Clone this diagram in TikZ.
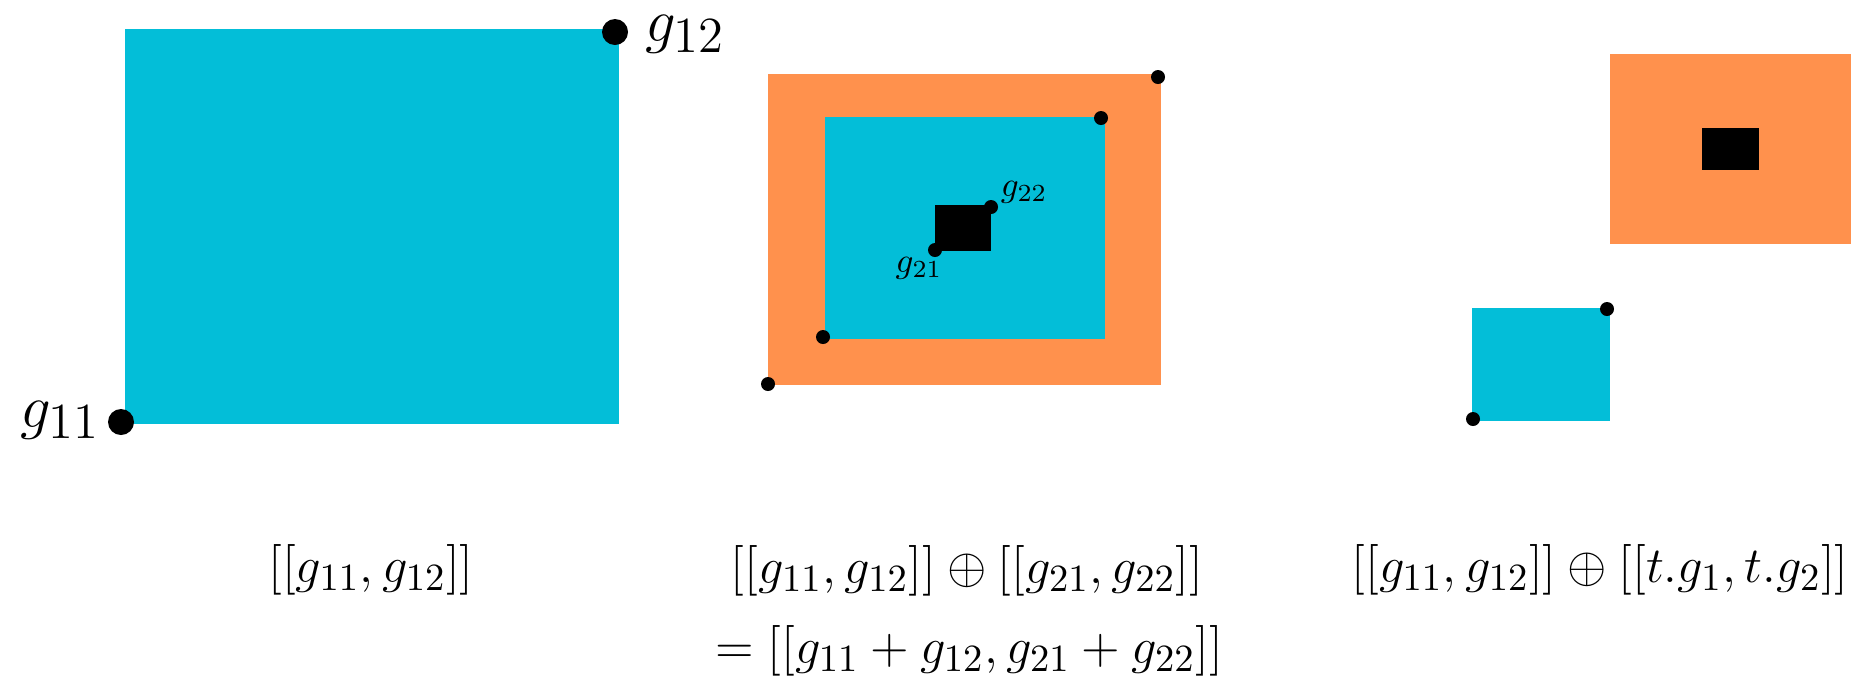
\documentclass[tikz,border=0pt]{standalone}
\usepackage{amsmath}
\usepackage{amssymb}
\usepackage{tikz}
\usetikzlibrary{calc}

\definecolor{boxcyan}{RGB}{3,190,216}
\definecolor{boxorange}{RGB}{255,145,77}

\begin{document}
\begin{tikzpicture}[scale=1]
  \useasboundingbox (0,0) rectangle (18.66,6.77);

  % first picture
  \fill[boxcyan] (1.25,2.53) rectangle (6.19,6.48);
  \coordinate (g11) at (1.21,2.55);
  \coordinate (g12) at (6.15,6.45);
  \fill[black] (g11) circle (0.13);
  \fill[black] (g12) circle (0.13);
  \node (g11lab) at (0.60,2.57) {\fontsize{19}{23}\selectfont $g_{11}$};
  \node (g12lab) at (6.85,6.43) {\fontsize{19}{23}\selectfont $g_{12}$};

  % second picture
  \fill[boxorange] (7.68,2.92) rectangle (11.61,6.03);
  \fill[boxcyan] (8.25,3.38) rectangle (11.05,5.60);
  \fill[black] (9.35,4.26) rectangle (9.91,4.72);
  \fill[black] (7.68,2.93) circle (0.07);
  \fill[black] (8.23,3.40) circle (0.07);
  \fill[black] (11.01,5.59) circle (0.07);
  \fill[black] (11.58,6.00) circle (0.07);
  \coordinate (g21) at (9.35,4.27);
  \coordinate (g22) at (9.91,4.70);
  \fill[black] (g21) circle (0.07);
  \fill[black] (g22) circle (0.07);
  \node (g21lab) at (9.19,4.09) {$g_{21}$};
  \node (g22lab) at (10.24,4.85) {$g_{22}$};

  % third picture
  \fill[boxorange] (16.10,4.33) rectangle (18.51,6.23);
  \fill[black] (17.02,5.07) rectangle (17.59,5.49);
  \fill[boxcyan] (14.72,2.56) rectangle (16.10,3.69);
  \fill[black] (14.73,2.58) circle (0.07);
  \fill[black] (16.07,3.68) circle (0.07);

  % formulas
  \node (lab1) at (3.71,1.07) {\fontsize{15}{18}\selectfont $[[g_{11},g_{12}]]$};
  \node (lab2) at (9.67,1.06) {\fontsize{15}{18}\selectfont $[[g_{11},g_{12}]]\oplus[[g_{21},g_{22}]]$};
  \node (lab2b) at (9.69,0.26) {\fontsize{15}{18}\selectfont $=[[g_{11}+g_{12},g_{21}+g_{22}]]$};
  \node (lab3) at (16.00,1.07) {\fontsize{15}{18}\selectfont $[[g_{11},g_{12}]]\oplus[[t.g_1,t.g_2]]$};
\end{tikzpicture}
\end{document}
